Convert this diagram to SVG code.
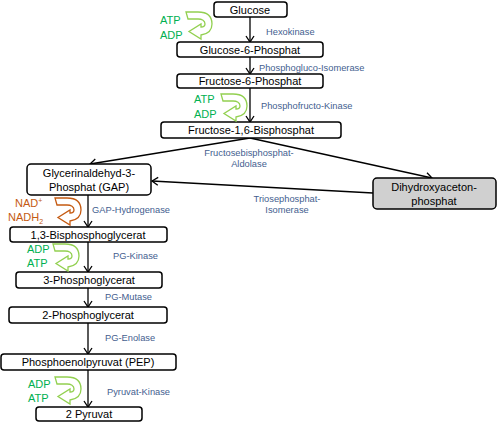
<svg xmlns="http://www.w3.org/2000/svg" width="500" height="427" viewBox="0 0 500 427">
<style>
.box{fill:#fff;stroke:#000;stroke-width:1.5}
.gray{fill:#d0d0d0}
.t{font-family:"Liberation Sans",Arial,sans-serif;font-size:11px;fill:#000;text-anchor:middle}
.e{font-family:"Liberation Sans",Arial,sans-serif;font-size:9.3px;fill:#44608f}
.c{font-family:"Liberation Sans",Arial,sans-serif;font-size:11px;fill:#00b050}
.o{font-family:"Liberation Sans",Arial,sans-serif;font-size:11px;fill:#c55a11}
.conn line{stroke:#000;stroke-width:1.3;marker-end:url(#ah)}
.ga{fill:#fff;stroke:#92d050;stroke-width:1.3}
.oa{fill:#fff;stroke:#c55a11;stroke-width:1.3}
</style>
<defs>
<marker id="ah" markerWidth="10" markerHeight="10" refX="8" refY="5" orient="auto" markerUnits="userSpaceOnUse">
<polyline points="2,1 8,5 2,9" fill="none" stroke="#000" stroke-width="1.3"/>
</marker>
<path id="ua" d="M0,0 L12,0 C22,0 26,5 26,12 C26,18 22,22 15,23 L15,27 L3,19.5 L15,12 L15,15 C18,15 19,14 19,12 C19,9 16,7 12,7 L2,7 Z"/>
</defs>
<g class="conn">
<line x1="250" y1="17" x2="250" y2="42"/>
<line x1="250" y1="57" x2="250" y2="74"/>
<line x1="250" y1="88" x2="250" y2="122"/>
<line x1="250" y1="138" x2="90" y2="164"/>
<line x1="250" y1="138" x2="432" y2="178"/>
<line x1="373" y1="193" x2="152" y2="181"/>
<line x1="88" y1="195" x2="88" y2="227"/>
<line x1="88" y1="242" x2="88" y2="272"/>
<line x1="88" y1="288" x2="88" y2="307"/>
<line x1="88" y1="323" x2="88" y2="354"/>
<line x1="88" y1="370" x2="88" y2="407"/>
</g>
<g id="glucose"><rect class="box" x="214" y="2" width="73" height="15" rx="3"/><text class="t" x="250" y="13.5">Glucose</text></g>
<g id="g6p"><rect class="box" x="177" y="42" width="146" height="15" rx="3"/><text class="t" x="250" y="53.5">Glucose-6-Phosphat</text></g>
<g id="f6p"><rect class="box" x="177" y="74" width="146" height="14" rx="3"/><text class="t" x="250" y="85">Fructose-6-Phosphat</text></g>
<g id="f16bp"><rect class="box" x="161" y="122" width="180" height="16" rx="3"/><text class="t" x="251" y="134">Fructose-1,6-Bisphosphat</text></g>
<g id="gap"><rect class="box" x="27" y="164" width="124" height="31" rx="4"/><text class="t" x="89" y="177">Glycerinaldehyd-3-</text><text class="t" x="89" y="191">Phosphat (GAP)</text></g>
<g id="dhap"><rect class="box gray" x="373" y="178" width="123" height="31" rx="4"/><text class="t" x="434" y="191">Dihydroxyaceton-</text><text class="t" x="434" y="205">phosphat</text></g>
<g id="bpg"><rect class="box" x="10" y="227" width="157" height="15" rx="3"/><text class="t" x="88" y="238.5">1,3-Bisphosphoglycerat</text></g>
<g id="pg3"><rect class="box" x="16" y="272" width="146" height="16" rx="3"/><text class="t" x="89" y="284">3-Phosphoglycerat</text></g>
<g id="pg2"><rect class="box" x="9" y="307" width="158" height="16" rx="3"/><text class="t" x="88" y="319">2-Phosphoglycerat</text></g>
<g id="pep"><rect class="box" x="1" y="354" width="175" height="16" rx="3"/><text class="t" x="88" y="366">Phosphoenolpyruvat (PEP)</text></g>
<g id="pyr"><rect class="box" x="36" y="407" width="106" height="14" rx="3"/><text class="t" x="89" y="418">2 Pyruvat</text></g>
<g id="labels">
<text class="e" x="266" y="35">Hexokinase</text>
<text class="e" x="259" y="71">Phosphogluco-Isomerase</text>
<text class="e" x="261" y="109">Phosphofructo-Kinase</text>
<text class="e" x="249" y="156" text-anchor="middle">Fructosebisphosphat-</text>
<text class="e" x="249" y="167" text-anchor="middle">Aldolase</text>
<text class="e" x="287" y="202" text-anchor="middle">Triosephosphat-</text>
<text class="e" x="287" y="213" text-anchor="middle">Isomerase</text>
<text class="e" x="92" y="213">GAP-Hydrogenase</text>
<text class="e" x="113" y="259">PG-Kinase</text>
<text class="e" x="105" y="300">PG-Mutase</text>
<text class="e" x="105" y="341">PG-Enolase</text>
<text class="e" x="107" y="395">Pyruvat-Kinase</text>
</g>
<g id="cofactors">
<use href="#ua" class="ga" transform="translate(186,12)"/>
<text class="c" x="160" y="24">ATP</text>
<text class="c" x="160" y="39">ADP</text>
<use href="#ua" class="ga" transform="translate(221,94)"/>
<text class="c" x="194" y="103">ATP</text>
<text class="c" x="194" y="118">ADP</text>
<use href="#ua" class="oa" transform="translate(55,198)"/>
<text class="o" x="15" y="207">NAD<tspan font-size="7" dy="-4">+</tspan></text>
<text class="o" x="8" y="221">NADH<tspan font-size="7" dy="3">2</tspan></text>
<use href="#ua" class="ga" transform="translate(53,244)"/>
<text class="c" x="27" y="253">ADP</text>
<text class="c" x="27" y="267">ATP</text>
<use href="#ua" class="ga" transform="translate(55,377)"/>
<text class="c" x="28" y="388">ADP</text>
<text class="c" x="28" y="402">ATP</text>
</g>
</svg>
